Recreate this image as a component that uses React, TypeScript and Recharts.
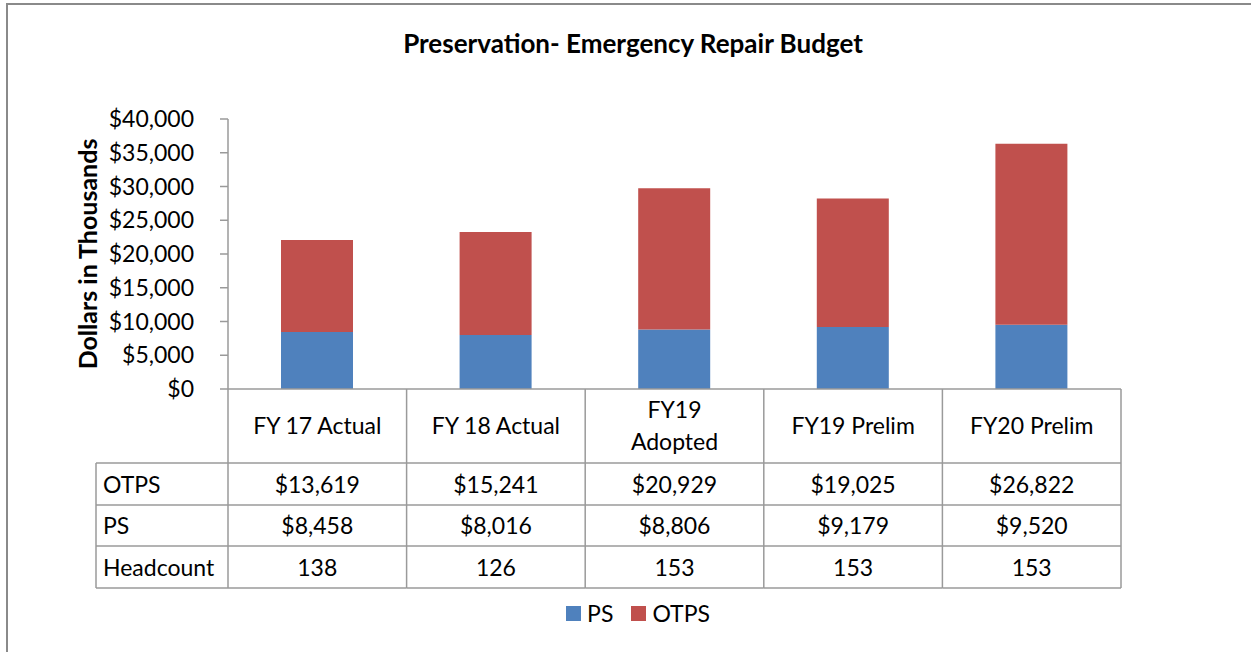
import { Bar, BarChart, XAxis, YAxis } from "recharts"

const categories = ["FY 17 Actual", "FY 18 Actual", "FY19\nAdopted", "FY19 Prelim", "FY20 Prelim"]
const psValues = [8458, 8016, 8806, 9179, 9520]
const otpsValues = [13619, 15241, 20929, 19025, 26822]
const headcount = [138, 126, 153, 153, 153]
const yTicks = [0, 5000, 10000, 15000, 20000, 25000, 30000, 35000, 40000]

const data = categories.map((name, i) => ({
  name,
  PS: psValues[i],
  OTPS: otpsValues[i],
}))

const FONT = "Lato, 'Open Sans', sans-serif"
const BLUE = "#4F81BD"
const RED = "#C0504D"
const GRID = "#9a9a9a"
const PLOT_LEFT = 228
const PLOT_RIGHT = 1121
const BAND = (PLOT_RIGHT - PLOT_LEFT) / categories.length
const HEAD_LEFT = 96
const ROWS = [74, 116, 157, 199]

const money = (v: number) => "$" + v.toLocaleString("en-US")

function TableTick(props: any) {
  const { x, y, index, payload } = props
  const left = x - BAND / 2
  const right = x + BAND / 2
  const label = String(payload.value).split("\n")
  const rowText = [money(otpsValues[index]), money(psValues[index]), String(headcount[index])]
  const rowY = [95, 136, 178]
  return (
    <g fontFamily={FONT} fontSize={23} fill="#000">
      <line x1={left} x2={left} y1={y} y2={y + 199} stroke={GRID} strokeWidth={1.5} />
      {index === categories.length - 1 && (
        <line x1={right} x2={right} y1={y} y2={y + 199} stroke={GRID} strokeWidth={1.5} />
      )}
      {ROWS.map((r) => (
        <line key={r} x1={left} x2={right} y1={y + r} y2={y + r} stroke={GRID} strokeWidth={1.5} />
      ))}
      {label.length === 1 ? (
        <text x={x} y={y + 36} textAnchor="middle" dominantBaseline="central">
          {label[0]}
        </text>
      ) : (
        label.map((l, k) => (
          <text key={k} x={x} y={y + 20 + k * 32} textAnchor="middle" dominantBaseline="central">
            {l}
          </text>
        ))
      )}
      {rowText.map((t, k) => (
        <text key={k} x={x} y={y + rowY[k]} textAnchor="middle" dominantBaseline="central">
          {t}
        </text>
      ))}
      {index === 0 && (
        <g>
          <line x1={HEAD_LEFT} x2={HEAD_LEFT} y1={y + 74} y2={y + 199} stroke={GRID} strokeWidth={1.5} />
          {ROWS.map((r) => (
            <line key={r} x1={HEAD_LEFT} x2={left} y1={y + r} y2={y + r} stroke={GRID} strokeWidth={1.5} />
          ))}
          {["OTPS", "PS", "Headcount"].map((t, k) => (
            <text key={t} x={HEAD_LEFT + 7} y={y + rowY[k]} dominantBaseline="central">
              {t}
            </text>
          ))}
        </g>
      )}
    </g>
  )
}

function YLabel(props: any) {
  const { viewBox } = props
  const cx = viewBox.x - 41
  const cy = viewBox.y + viewBox.height / 2
  return (
    <text
      x={cx}
      y={cy}
      transform={`rotate(-90, ${cx}, ${cy})`}
      textAnchor="middle"
      dominantBaseline="central"
      fontFamily={FONT}
      fontWeight="bold"
      fontSize={25}
      fill="#000"
    >
      Dollars in Thousands
    </text>
  )
}

export default function App() {
  return (
    <div
      style={{
        position: "fixed",
        left: 0,
        top: 0,
        width: 1251,
        height: 652,
        overflow: "hidden",
        background: "#fff",
      }}
    >
      <div
        style={{
          position: "absolute",
          left: 0,
          width: 1266,
          top: 27,
          textAlign: "center",
          fontFamily: FONT,
          fontWeight: "bold",
          fontSize: 26,
          color: "#000",
        }}
      >
        Preservation- Emergency Repair Budget
      </div>
      <div style={{ position: "absolute", left: 0, top: 0 }}>
        <BarChart
          width={1251}
          height={652}
          data={data}
          margin={{ top: 119, right: 1251 - PLOT_RIGHT, bottom: 63, left: PLOT_LEFT - 100 }}
        >
          <XAxis
            dataKey="name"
            height={200}
            interval={0}
            tickLine={false}
            tickSize={0}
            tickMargin={0}
            axisLine={{ stroke: GRID, strokeWidth: 1.5 }}
            tick={(p: any) => <TableTick {...p} />}
          />
          <YAxis
            width={100}
            domain={[0, 40000]}
            ticks={yTicks}
            interval={0}
            tickSize={8}
            tickMargin={26}
            tickFormatter={money}
            axisLine={{ stroke: GRID, strokeWidth: 1.5 }}
            tickLine={{ stroke: GRID, strokeWidth: 1.5 }}
            tick={{ fontFamily: FONT, fontSize: 23, fill: "#000" }}
            label={<YLabel />}
          />
          <Bar dataKey="PS" stackId="a" fill={BLUE} barSize={72} isAnimationActive={false} />
          <Bar dataKey="OTPS" stackId="a" fill={RED} barSize={72} isAnimationActive={false} />
        </BarChart>
      </div>
      <div
        style={{
          position: "absolute",
          left: 0,
          width: 1276,
          top: 599,
          display: "flex",
          justifyContent: "center",
          alignItems: "center",
          gap: 18,
          fontFamily: FONT,
          fontSize: 23,
          color: "#000",
        }}
      >
        <span style={{ display: "flex", alignItems: "center", gap: 6 }}>
          <span style={{ width: 15, height: 15, background: BLUE, display: "inline-block" }} />
          PS
        </span>
        <span style={{ display: "flex", alignItems: "center", gap: 6 }}>
          <span style={{ width: 15, height: 15, background: RED, display: "inline-block" }} />
          OTPS
        </span>
      </div>
      <div
        style={{
          position: "absolute",
          left: 6,
          top: 3,
          width: 1400,
          height: 800,
          borderTop: "2px solid #8a8a8a",
          borderLeft: "2px solid #8a8a8a",
          boxSizing: "border-box",
          pointerEvents: "none",
        }}
      />
    </div>
  )
}
